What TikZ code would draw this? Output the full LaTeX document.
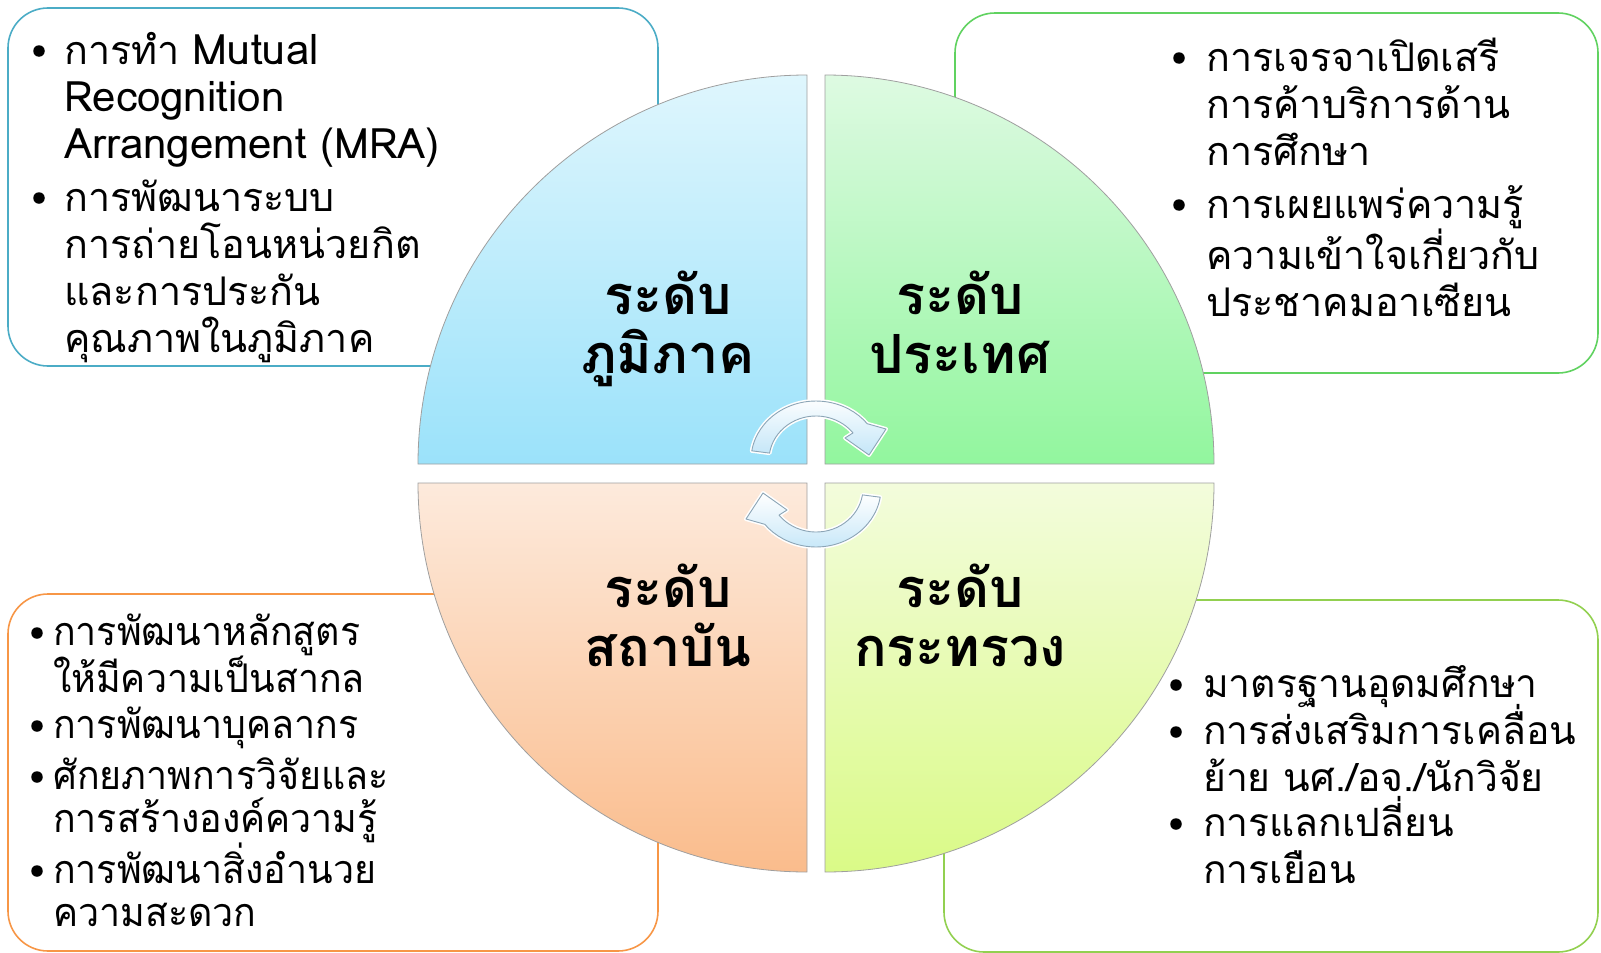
\documentclass[tikz,border=0pt]{standalone}
\usepackage{fontspec}
\newfontfamily\thai[Script=Thai]{Loma}
\newfontfamily\thaiN[Script=Thai,FakeStretch=0.95]{Loma}
\newcommand\latw[1]{{\fontsize{42}{47}\selectfont #1}}
\definecolor{bTL}{RGB}{75,172,198}
\definecolor{bTR}{RGB}{96,210,96}
\definecolor{bBL}{RGB}{247,150,70}
\definecolor{bBR}{RGB}{146,208,80}
\definecolor{qTLt}{RGB}{223,246,253}
\definecolor{qTLb}{RGB}{155,226,250}
\definecolor{qTRt}{RGB}{222,250,226}
\definecolor{qTRb}{RGB}{146,246,158}
\definecolor{qBLt}{RGB}{253,234,220}
\definecolor{qBLb}{RGB}{250,188,140}
\definecolor{qBRt}{RGB}{243,252,220}
\definecolor{qBRb}{RGB}{218,250,135}
\definecolor{arrowfill}{RGB}{196,230,248}
\definecolor{arrowline}{RGB}{140,165,182}
\tikzset{
  infobox/.style={line width=1.6pt, rounded corners=40pt, fill=white},
  quad/.style={draw=gray!75, line width=0.8pt},
  item/.style={anchor=base west, inner sep=0pt, text width=560pt, align=left,
    font=\thai\fontsize{39.5}{47}\selectfont},
  itemb/.style={item, font=\thaiN\fontsize{39.5}{43}\selectfont},
  itemc/.style={item, font=\thai\fontsize{39}{47}\selectfont},
  dot/.style={circle, fill=black, inner sep=0pt, minimum size=11.5pt},
  lvl/.style={anchor=base, inner sep=0pt, font=\thai\bfseries\fontsize{54}{58}\selectfont},
  cyc/.style={preaction={draw=white, line width=4pt, line join=round},
    draw=arrowline, line width=0.9pt, line join=round, top color=white, bottom color=arrowfill},
}
\begin{document}
\begin{tikzpicture}[x=1pt,y=-1pt]
\useasboundingbox (0,0) rectangle (1601,953);
% boxes
\draw[infobox, draw=bTL] (8,8) rectangle (658,366);
\draw[infobox, draw=bTR] (955,13) rectangle (1598,373);
\draw[infobox, draw=bBL] (8,594) rectangle (658,951);
\draw[infobox, draw=bBR] (944,600) rectangle (1598,952);
% quadrants
\path[quad, top color=qTLt, bottom color=qTLb] (807,464) -- (418,464) arc[start angle=180, end angle=270, radius=389] -- cycle;
\path[quad, top color=qTRt, bottom color=qTRb] (825,464) -- (825,75) arc[start angle=270, end angle=360, radius=389] -- cycle;
\path[quad, top color=qBRt, bottom color=qBRb] (825,483) -- (1214,483) arc[start angle=0, end angle=90, radius=389] -- cycle;
\path[quad, top color=qBLt, bottom color=qBLb] (807,483) -- (807,872) arc[start angle=90, end angle=180, radius=389] -- cycle;
% cycle arrows
\path[cyc] (751.8,450.8) arc[start angle=189, end angle=322, x radius=65, y radius=59]
  -- (886,429) -- (869,455) -- (845,438) -- (853.0,432.9)
  arc[start angle=322, end angle=189, x radius=47, y radius=44] -- cycle;
\begin{scope}[rotate around={180:(816,474)}]
\path[cyc] (751.8,450.8) arc[start angle=189, end angle=322, x radius=65, y radius=59]
  -- (886,429) -- (869,455) -- (845,438) -- (853.0,432.9)
  arc[start angle=322, end angle=189, x radius=47, y radius=44] -- cycle;
\end{scope}
% level labels
\node[lvl] (tl1) at (668,314) {ระดับ};
\node[lvl] (tl2) at (668,373) {ภูมิภาค};
\node[lvl] (tr1) at (960,314) {ระดับ};
\node[lvl] (tr2) at (960,373) {ประเทศ};
\node[lvl] (bl1) at (668,607) {ระดับ};
\node[lvl] (bl2) at (668,666) {สถาบัน};
\node[lvl] (br1) at (960,607) {ระดับ};
\node[lvl] (br2) at (960,666) {กระทรวง};
% top-left items
\node[dot] (d11) at (39,51) {};
\node[item] (t11) at (64,64) {การทำ \latw{Mutual}\\\latw{Recognition}\\\latw{Arrangement (MRA)}};
\node[dot] (d12) at (39,198) {};
\node[item] (t12) at (64,211) {การพัฒนาระบบ\\การถ่ายโอนหน่วยกิต\\และการประกัน\\คุณภาพในภูมิภาค};
% top-right items
\node[dot] (d21) at (1179,58) {};
\node[item] (t21) at (1206,71) {การเจรจาเปิดเสรี\\การค้าบริการด้าน\\การศึกษา};
\node[dot] (d22) at (1179,205) {};
\node[item] (t22) at (1206,218) {การเผยแพร่ความรู้\\ความเข้าใจเกี่ยวกับ\\ประชาคมอาเซียน};
% bottom-left items
\node[dot] (d31) at (37,633) {};
\node[itemb] (t31) at (53,645) {การพัฒนาหลักสูตร\\ให้มีความเป็นสากล};
\node[dot] (d32) at (37,726) {};
\node[itemb] (t32) at (53,738) {การพัฒนาบุคลากร};
\node[dot] (d33) at (37,777) {};
\node[itemb] (t33) at (53,789) {ศักยภาพการวิจัยและ\\การสร้างองค์ความรู้};
\node[dot] (d34) at (37,871) {};
\node[itemb] (t34) at (53,883) {การพัฒนาสิ่งอำนวย\\ความสะดวก};
% bottom-right items
\node[dot] (d41) at (1176,685) {};
\node[itemc] (t41) at (1203,697) {มาตรฐานอุดมศึกษา};
\node[dot] (d42) at (1176,732) {};
\node[itemc] (t42) at (1203,744) {การส่งเสริมการเคลื่อน\\ย้าย นศ./อจ./นักวิจัย};
\node[dot] (d43) at (1176,824) {};
\node[itemc] (t43) at (1203,836) {การแลกเปลี่ยน\\การเยือน};
\end{tikzpicture}
\end{document}
